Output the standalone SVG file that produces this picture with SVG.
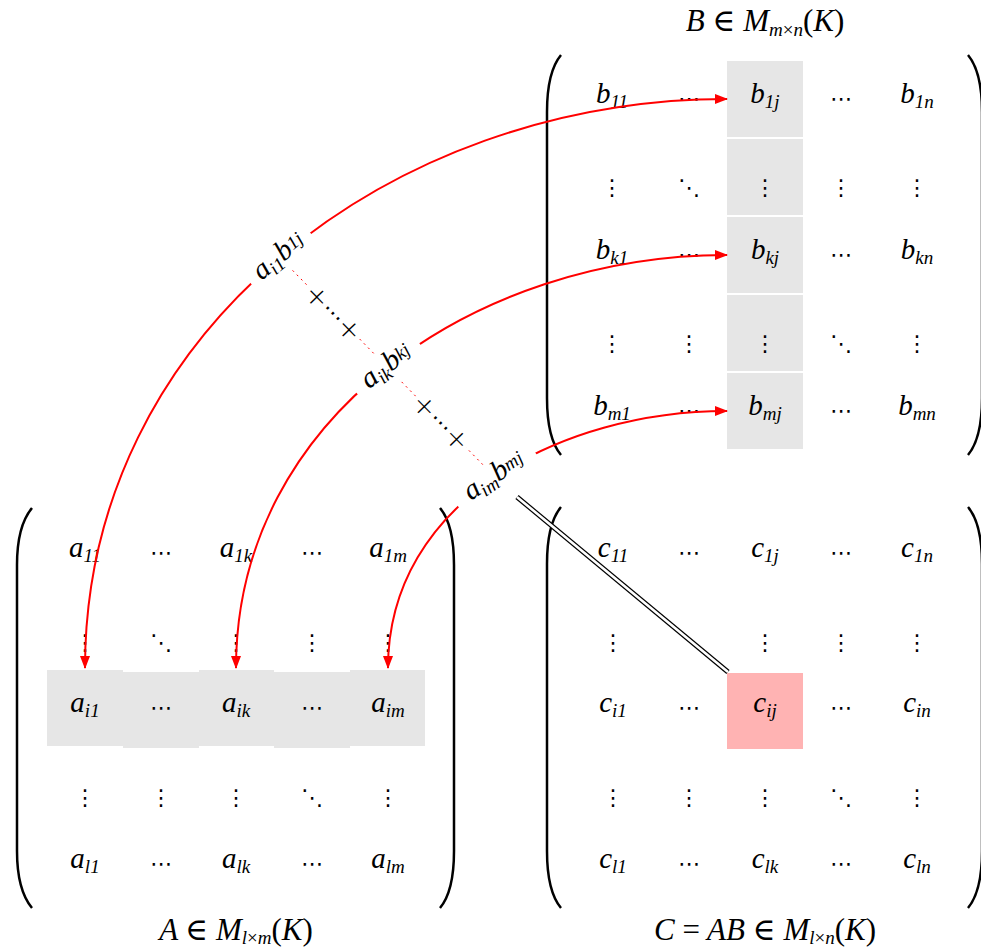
<svg xmlns="http://www.w3.org/2000/svg" width="981" height="951" viewBox="0 0 981 951">
<style>
.e{font-family:"Liberation Serif","DejaVu Serif",serif;font-style:italic;font-size:29px;text-anchor:middle;fill:#000}
.t{font-size:31px}
.s{font-size:19px}
.u{font-style:normal}
.d{font-family:"DejaVu Sans",sans-serif;font-size:22px;text-anchor:middle;fill:#000}
.p{font-family:"DejaVu Sans",sans-serif;font-size:28px;font-weight:300;text-anchor:middle;fill:#000}
.br{fill:none;stroke:#000;stroke-width:2.5}
.g{fill:#e6e6e6}
.arr{fill:none;stroke:#ff0000;stroke-width:2;marker-start:url(#ah);marker-end:url(#ah)}
.dot{fill:none;stroke:#ff0000;stroke-width:1;stroke-dasharray:2 4}
.lbl{fill:#fff}
</style>
<defs>
<marker id="ah" viewBox="0 0 13 10" refX="12" refY="5" markerWidth="13" markerHeight="10" markerUnits="userSpaceOnUse" orient="auto-start-reverse">
<path d="M0,0 L13,5 L0,10 z" fill="#ff0000"/>
</marker>
</defs>
<rect width="981" height="951" fill="#fff"/>

<!-- Matrix B -->
<g id="matrixB">
<rect class="g" x="727" y="61" width="76" height="76"/>
<rect class="g" x="727" y="139" width="76" height="76"/>
<rect class="g" x="727" y="217" width="76" height="76"/>
<rect class="g" x="727" y="295" width="76" height="76"/>
<rect class="g" x="727" y="373" width="76" height="76"/>
<path class="br" d="M561 55 C551 67 547 87 547 112 L547 398 C547 423 551 443 561 455"/>
<path class="br" d="M968 55 C978 67 982 87 982 112 L982 398 C982 423 978 443 968 455"/>
<text class="e" x="612" y="103">b<tspan class="s" dy="5">11</tspan></text>
<text class="d" x="689" y="106">⋯</text>
<text class="e" x="765" y="103">b<tspan class="s" dy="5">1j</tspan></text>
<text class="d" x="841" y="106">⋯</text>
<text class="e" x="917" y="103">b<tspan class="s" dy="5">1n</tspan></text>
<text class="d" x="612" y="195">⋮</text>
<text class="d" x="689" y="195">⋱</text>
<text class="d" x="765" y="195">⋮</text>
<text class="d" x="841" y="195">⋮</text>
<text class="d" x="917" y="195">⋮</text>
<text class="e" x="612" y="259">b<tspan class="s" dy="5">k1</tspan></text>
<text class="d" x="689" y="262">⋯</text>
<text class="e" x="765" y="259">b<tspan class="s" dy="5">kj</tspan></text>
<text class="d" x="841" y="262">⋯</text>
<text class="e" x="917" y="259">b<tspan class="s" dy="5">kn</tspan></text>
<text class="d" x="612" y="351">⋮</text>
<text class="d" x="689" y="351">⋮</text>
<text class="d" x="765" y="351">⋮</text>
<text class="d" x="841" y="351">⋱</text>
<text class="d" x="917" y="351">⋮</text>
<text class="e" x="612" y="415">b<tspan class="s" dy="5">m1</tspan></text>
<text class="d" x="689" y="418">⋯</text>
<text class="e" x="765" y="415">b<tspan class="s" dy="5">mj</tspan></text>
<text class="d" x="841" y="418">⋯</text>
<text class="e" x="917" y="415">b<tspan class="s" dy="5">mn</tspan></text>
<text class="e t" x="765" y="31">B <tspan class="u">∈</tspan> M<tspan class="s" dy="5" font-size="20">m<tspan class="u">×</tspan>n</tspan><tspan class="u" dy="-5">(</tspan>K<tspan class="u">)</tspan></text>
</g>

<!-- Matrix A -->
<g id="matrixA">
<rect class="g" x="47" y="670" width="76" height="76"/>
<rect class="g" x="123" y="672" width="76" height="76"/>
<rect class="g" x="199" y="670" width="75" height="76"/>
<rect class="g" x="274" y="672" width="76" height="76"/>
<rect class="g" x="350" y="670" width="75" height="76"/>
<path class="br" d="M32 508 C22 520 17 540 17 565 L17 851 C17 876 22 896 32 908"/>
<path class="br" d="M440 508 C450 520 454 540 454 565 L454 851 C454 876 450 896 440 908"/>
<text class="e" x="85" y="557">a<tspan class="s" dy="5">11</tspan></text>
<text class="d" x="161" y="560">⋯</text>
<text class="e" x="236" y="557">a<tspan class="s" dy="5">1k</tspan></text>
<text class="d" x="312" y="560">⋯</text>
<text class="e" x="388" y="557">a<tspan class="s" dy="5">1m</tspan></text>
<text class="d" x="85" y="650">⋮</text>
<text class="d" x="161" y="650">⋱</text>
<text class="d" x="236" y="650">⋮</text>
<text class="d" x="312" y="650">⋮</text>
<text class="d" x="388" y="650">⋮</text>
<text class="e" x="85" y="712">a<tspan class="s" dy="5">i1</tspan></text>
<text class="d" x="161" y="715">⋯</text>
<text class="e" x="236" y="712">a<tspan class="s" dy="5">ik</tspan></text>
<text class="d" x="312" y="715">⋯</text>
<text class="e" x="388" y="712">a<tspan class="s" dy="5">im</tspan></text>
<text class="d" x="85" y="805">⋮</text>
<text class="d" x="161" y="805">⋮</text>
<text class="d" x="236" y="805">⋮</text>
<text class="d" x="312" y="805">⋱</text>
<text class="d" x="388" y="805">⋮</text>
<text class="e" x="85" y="868">a<tspan class="s" dy="5">l1</tspan></text>
<text class="d" x="161" y="871">⋯</text>
<text class="e" x="236" y="868">a<tspan class="s" dy="5">lk</tspan></text>
<text class="d" x="312" y="871">⋯</text>
<text class="e" x="388" y="868">a<tspan class="s" dy="5">lm</tspan></text>
<text class="e t" x="236" y="940">A <tspan class="u">∈</tspan> M<tspan class="s" dy="4" font-size="20">l<tspan class="u">×</tspan>m</tspan><tspan class="u" dy="-4">(</tspan>K<tspan class="u">)</tspan></text>
</g>

<!-- Matrix C -->
<g id="matrixC">
<rect x="727" y="673" width="76" height="76" fill="#ffb3b3"/>
<path class="br" d="M561 507 C551 519 547 539 547 564 L547 851 C547 876 551 896 561 908"/>
<path class="br" d="M968 507 C978 519 982 539 982 564 L982 851 C982 876 978 896 968 908"/>
<text class="e" x="613" y="557">c<tspan class="s" dy="5">11</tspan></text>
<text class="d" x="689" y="560">⋯</text>
<text class="e" x="765" y="557">c<tspan class="s" dy="5">1j</tspan></text>
<text class="d" x="841" y="560">⋯</text>
<text class="e" x="917" y="557">c<tspan class="s" dy="5">1n</tspan></text>
<text class="d" x="613" y="650">⋮</text>
<text class="d" x="765" y="650">⋮</text>
<text class="d" x="841" y="650">⋮</text>
<text class="d" x="917" y="650">⋮</text>
<text class="e" x="613" y="712">c<tspan class="s" dy="5">i1</tspan></text>
<text class="d" x="689" y="715">⋯</text>
<text class="e" x="765" y="712">c<tspan class="s" dy="5">ij</tspan></text>
<text class="d" x="841" y="715">⋯</text>
<text class="e" x="917" y="712">c<tspan class="s" dy="5">in</tspan></text>
<text class="d" x="613" y="805">⋮</text>
<text class="d" x="689" y="805">⋮</text>
<text class="d" x="765" y="805">⋮</text>
<text class="d" x="841" y="805">⋱</text>
<text class="d" x="917" y="805">⋮</text>
<text class="e" x="613" y="868">c<tspan class="s" dy="5">l1</tspan></text>
<text class="d" x="689" y="871">⋯</text>
<text class="e" x="765" y="868">c<tspan class="s" dy="5">lk</tspan></text>
<text class="d" x="841" y="871">⋯</text>
<text class="e" x="917" y="868">c<tspan class="s" dy="5">ln</tspan></text>
<text class="e t" x="765" y="940">C <tspan class="u">=</tspan> AB <tspan class="u">∈</tspan> M<tspan class="s" dy="4" font-size="20">l<tspan class="u">×</tspan>n</tspan><tspan class="u" dy="-4">(</tspan>K<tspan class="u">)</tspan></text>
</g>

<!-- Connectors -->
<g id="connectors">
<path class="arr" d="M85 668 C85 332 391 99 727 99"/>
<path class="arr" d="M236 668 C236 417 476 255 727 255"/>
<path class="arr" d="M388 668 C388 501.5 560.5 411 727 411"/>
<path class="dot" d="M280 257.5 L387.4 367.4 L495.1 477.1"/>
<path d="M517 497 L728 672" stroke="#000" stroke-width="5" fill="none"/>
<path d="M517 497 L728 672" stroke="#fff" stroke-width="2.6" fill="none"/>
</g>

<!-- Product terms -->
<g id="term1" transform="translate(280 257.5) rotate(-40.2)">
<rect class="lbl" x="-39" y="-17" width="78" height="34"/>
<text class="e" x="0" y="6" font-size="31">a<tspan class="s" dy="5">i1</tspan><tspan dy="-5">b</tspan><tspan class="s" dy="-3">1j</tspan></text>
</g>
<g id="sum1" transform="translate(333.7 312.5) rotate(45.7)">
<rect class="lbl" x="-36" y="-10" width="72" height="20"/>
<text class="p" x="-23" y="10">+</text>
<text class="d" x="0" y="8">⋯</text>
<text class="p" x="23" y="10">+</text>
</g>
<g id="term2" transform="translate(387.4 367.4) rotate(-38.2)">
<rect class="lbl" x="-40" y="-17" width="80" height="34"/>
<text class="e" x="0" y="6" font-size="31">a<tspan class="s" dy="5">ik</tspan><tspan dy="-5">b</tspan><tspan class="s" dy="-3">kj</tspan></text>
</g>
<g id="sum2" transform="translate(441.3 422.3) rotate(45.5)">
<rect class="lbl" x="-36" y="-10" width="72" height="20"/>
<text class="p" x="-23" y="10">+</text>
<text class="d" x="0" y="8">⋯</text>
<text class="p" x="23" y="10">+</text>
</g>
<g id="term3" transform="translate(495.1 477.1) rotate(-34.2)">
<rect class="lbl" x="-47" y="-17" width="94" height="34"/>
<text class="e" x="0" y="6" font-size="31">a<tspan class="s" dy="5">im</tspan><tspan dy="-5">b</tspan><tspan class="s" dy="-3">mj</tspan></text>
</g>
</svg>
